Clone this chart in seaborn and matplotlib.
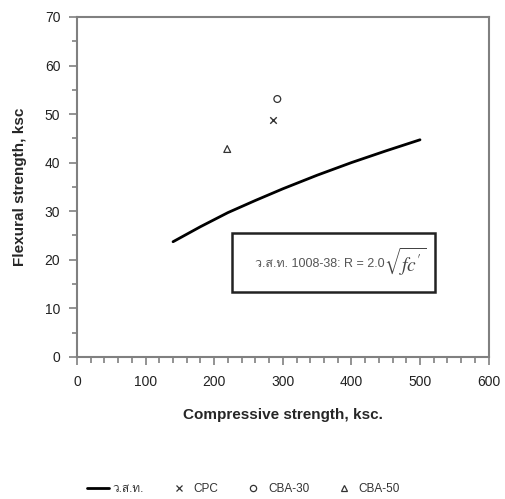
import numpy as np
import pandas as pd
import matplotlib
matplotlib.use("Agg")
import matplotlib.pyplot as plt
import seaborn as sns
from matplotlib import font_manager
from matplotlib.ft2font import FT2Font
from matplotlib.ticker import MultipleLocator
from matplotlib.lines import Line2D
from matplotlib.patches import Rectangle

# Data

# standard curve (ว.ส.ท. 1008-38)
curve_fc = [140, 180, 220, 260, 300, 350, 400, 450, 500]
curve_r = [23.7, 26.8, 29.7, 32.2, 34.6, 37.4, 40.0, 42.4, 44.7]

# test results
mix_names = ["CPC", "CBA-30", "CBA-50"]
mix_fc = [285, 292, 219]
mix_r = [48.8, 53.1, 42.8]

x_ticks = [0, 100, 200, 300, 400, 500, 600]
y_ticks = [0, 10, 20, 30, 40, 50, 60, 70]


# find a font that has Thai glyphs
def find_thai_font():
    for f in font_manager.fontManager.ttflist:
        try:
            if 0x0E27 in FT2Font(f.fname).get_charmap():
                return f.name
        except Exception:
            pass
    return None


sns.set_style("white")
thai = find_thai_font()
names = {f.name for f in font_manager.fontManager.ttflist}
fams = []
if "Liberation Sans Narrow" in names:
    fams.append("Liberation Sans Narrow")
else:
    fams.append("Liberation Sans")
if thai:
    fams.append(thai)
fams.append("DejaVu Sans")
plt.rcParams["font.family"] = fams

curve = pd.DataFrame({"fc": curve_fc, "R": curve_r})
mixes = pd.DataFrame({"fc": mix_fc, "R": mix_r, "mix": mix_names})

fig = plt.figure(figsize=(5.05, 4.99), dpi=100)
ax = fig.add_axes([0.1525, 0.285, 0.815, 0.681])

sns.lineplot(data=curve, x="fc", y="R", color="black", linewidth=2, ax=ax)

markers = {"CPC": "x", "CBA-30": "o", "CBA-50": "^"}
for name, m in markers.items():
    sub = mixes[mixes["mix"] == name]
    if m == "x":
        sns.scatterplot(data=sub, x="fc", y="R", marker="x", color="#333333",
                        s=22, linewidth=1, ax=ax)
    else:
        sns.scatterplot(data=sub, x="fc", y="R", marker=m, facecolor="none",
                        edgecolor="#333333", s=24, linewidth=0.9, ax=ax)

ax.set_xlim(0, 600)
ax.set_ylim(0, 70)
ax.set_xticks(x_ticks)
ax.set_yticks(y_ticks)
ax.xaxis.set_minor_locator(MultipleLocator(20))
ax.yaxis.set_minor_locator(MultipleLocator(5))

for s in ax.spines.values():
    s.set_color("#808080")
    s.set_linewidth(1.5)

ax.tick_params(axis="both", which="both", direction="out", colors="#808080",
               labelcolor="#222222", labelsize=10)
ax.tick_params(axis="x", which="major", length=6, width=1.2, pad=7)
ax.tick_params(axis="x", which="minor", length=4.5, width=1.2)
ax.tick_params(axis="y", which="major", length=6, width=1.2, pad=6)
ax.tick_params(axis="y", which="minor", length=3.8, width=1.2)
ax.tick_params(bottom=True, left=True, which="both")

ax.set_xlabel("Compressive strength, ksc.", fontsize=11, fontweight="bold",
              family=["Liberation Sans", "DejaVu Sans"], labelpad=14)
ax.set_ylabel("Flexural strength, ksc", fontsize=11, fontweight="bold",
              family=["Liberation Sans", "DejaVu Sans"], labelpad=13)

# equation box
ax.add_patch(Rectangle((226, 13.4), 296, 12.1, facecolor="white",
                       edgecolor="#222222", linewidth=1.8, zorder=3))
ax.text(259, 19.2, "ว.ส.ท. 1008-38: R = 2.0", ha="left", va="center",
        fontsize=9, color="#555555", zorder=4)
ax.text(447, 19.6, r"$\sqrt{fc'}$", ha="left", va="center", fontsize=14,
        color="#444444", math_fontfamily="stix", zorder=4)

handles = [
    Line2D([], [], color="black", linewidth=2),
    Line2D([], [], marker="x", linestyle="none", color="#333333",
           markersize=4.5, markeredgewidth=0.9),
    Line2D([], [], marker="o", linestyle="none", markerfacecolor="none",
           markeredgecolor="#333333", markersize=4.5, markeredgewidth=0.9),
    Line2D([], [], marker="^", linestyle="none", markerfacecolor="none",
           markeredgecolor="#333333", markersize=4.5, markeredgewidth=0.9),
]
labels = ["ว.ส.ท.", "CPC", "CBA-30", "CBA-50"]
fig.legend(handles, labels, loc="center", bbox_to_anchor=(0.482, 0.02),
           ncol=4, frameon=False, fontsize=8.5, handlelength=1.9,
           handletextpad=0.3, columnspacing=2.0, labelcolor="#333333")

fig.savefig("out.png", dpi=100)
